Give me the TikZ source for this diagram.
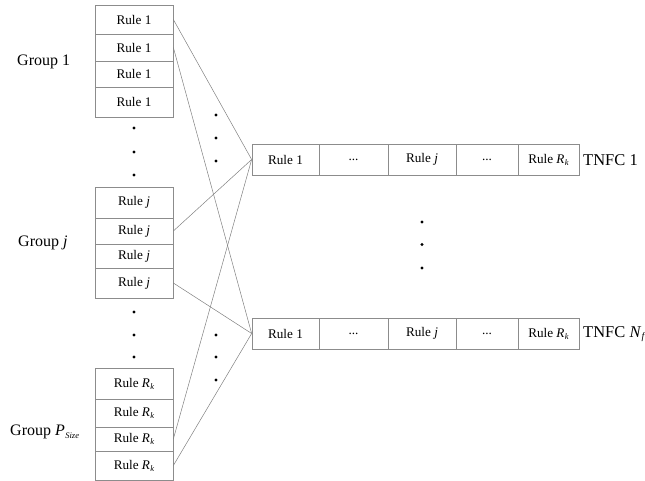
\documentclass[tikz,border=0pt]{standalone}
\usepackage{fontspec}
\setmainfont{Liberation Serif}
\newcommand{\Rk}{\textit{R}\kern0.3pt\raisebox{-2pt}{\fontsize{8.5}{9}\selectfont\textit{k}}}
\begin{document}
\begin{tikzpicture}[x=1pt,y=-1pt,
  cell/.style={draw=black!45,line width=0.7pt,minimum width=78pt,inner sep=0pt,font=\fontsize{13.2}{15}\selectfont},
  rowcell/.style={draw=black!45,line width=0.7pt,minimum height=31pt,inner sep=0pt,font=\fontsize{13.2}{15}\selectfont},
  glabel/.style={anchor=west,inner sep=0pt,font=\fontsize{16}{18}\selectfont},
  link/.style={draw=black!50,line width=0.5pt},
  dot/.style={fill=black,circle,inner sep=0pt,minimum size=3.2pt}]
\useasboundingbox (0,0) rectangle (645,481);

% group 1
\node[cell,minimum height=29pt] (a1) at (134,19.5) {Rule 1};
\node[cell,minimum height=27pt] (a2) at (134,47.5) {Rule 1};
\node[cell,minimum height=26pt] (a3) at (134,74) {Rule 1};
\node[cell,minimum height=30pt] (a4) at (134,102) {Rule 1};
% group j
\node[cell,minimum height=31pt] (b1) at (134,202.5) {Rule \textit{j}};
\node[cell,minimum height=26pt] (b2) at (134,231) {Rule \textit{j}};
\node[cell,minimum height=24pt] (b3) at (134,256) {Rule \textit{j}};
\node[cell,minimum height=30pt] (b4) at (134,283) {Rule \textit{j}};
% group P_Size
\node[cell,minimum height=31pt] (c1) at (134,383.5) {Rule \Rk};
\node[cell,minimum height=28pt] (c2) at (134,413) {Rule \Rk};
\node[cell,minimum height=24pt] (c3) at (134,439) {Rule \Rk};
\node[cell,minimum height=29pt] (c4) at (134,465.5) {Rule \Rk};

% group labels
\node[glabel] (g1) at (17,62) {Group 1};
\node[glabel] (gj) at (18,243) {Group \textit{j}};
\node[glabel] (gp) at (10,432) {Group \textit{P}\kern0.5pt{\fontsize{8.5}{9}\selectfont\raisebox{-2.5pt}{\textit{Size}}}};

% TNFC rows
\foreach \r/\y in {t/159.5, n/333.5}{
  \node[rowcell,minimum width=67pt] (\r1) at (285.5,\y) {Rule 1};
  \node[rowcell,minimum width=69pt] (\r2) at (353.5,\y) {...};
  \node[rowcell,minimum width=68pt] (\r3) at (422,\y) {Rule \textit{j}};
  \node[rowcell,minimum width=62pt] (\r4) at (487,\y) {...};
  \node[rowcell,minimum width=61pt] (\r5) at (548.5,\y) {Rule \Rk};
}
\node[glabel,font=\fontsize{16.5}{18}\selectfont] (lt) at (583,160) {TNFC 1};
\node[glabel,font=\fontsize{16.5}{18}\selectfont] (ln) at (583,334) {TNFC \textit{N}\kern0.3pt\raisebox{-2.5pt}{\fontsize{10}{11}\selectfont\textit{f}}};

% connectors
\draw[link] (a1.east) -- (t1.west);
\draw[link] (a2.east) -- (n1.west);
\draw[link] (b2.east) -- (t1.west);
\draw[link] (b4.east) -- (n1.west);
\draw[link] (c3.east) -- (t1.west);
\draw[link] (c4.east) -- (n1.west);

% ellipsis dots
\foreach \i/\x/\y in {1/134/128, 2/134/152, 3/134/175, 4/134/312, 5/134/335, 6/134/357,
                      7/216/115, 8/216/138, 9/216/161, 10/216/335, 11/216/357, 12/216/380,
                      13/422/222, 14/422/244.5, 15/422/268}
  \node[dot] (d\i) at (\x,\y) {};
\end{tikzpicture}
\end{document}
